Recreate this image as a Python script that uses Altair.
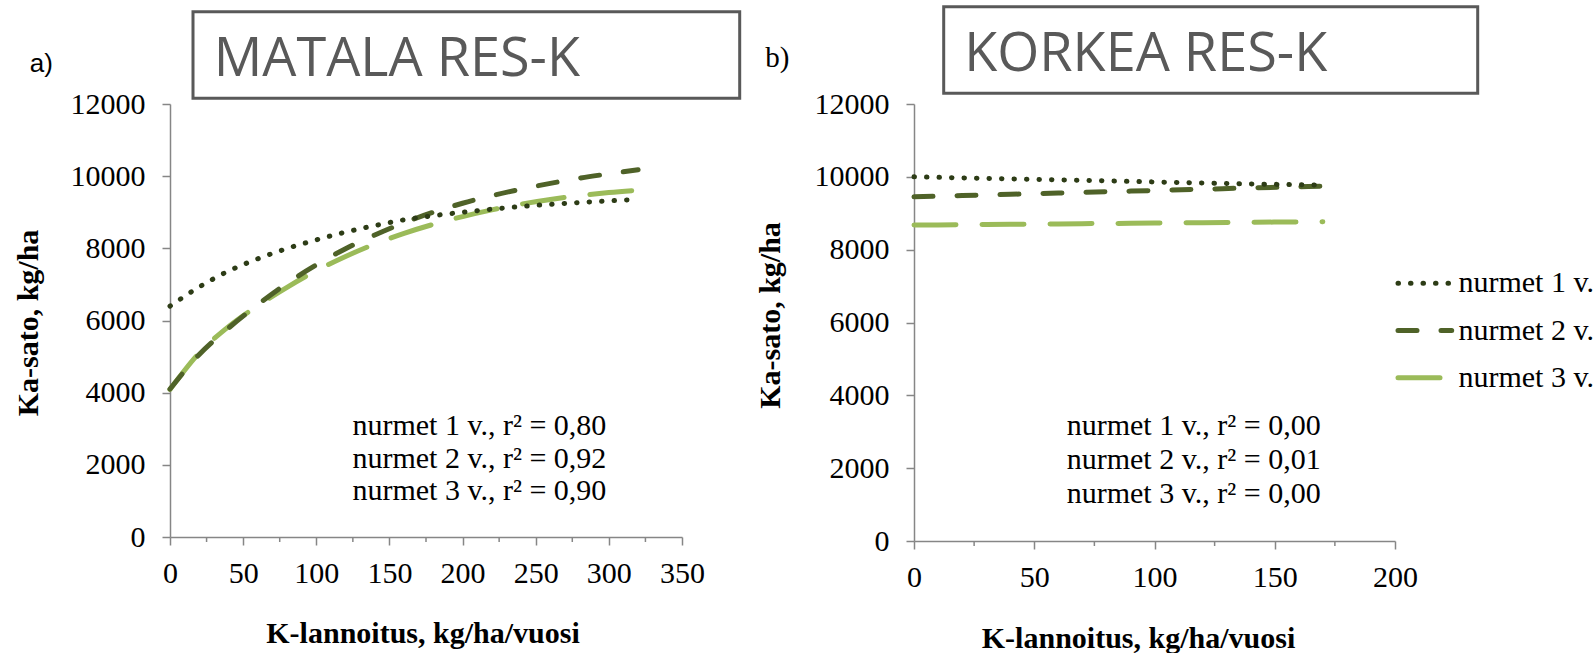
import altair as alt
import pandas as pd

# ---------------- data ----------------
series = ["nurmet 1 v.", "nurmet 2 v.", "nurmet 3 v."]
colors = ["#2d3c16", "#4f6228", "#9bbb59"]
dashes = [[0.5, 12], [19, 24], [42, 26]]
widths = [5, 5, 6]

# a) MATALA RES-K
x_left = [0, 20, 40, 60, 80, 100, 120, 140, 160, 180, 200, 220, 240, 260, 280, 300, 320]
left_y1 = [6400, 6930, 7370, 7710, 7995, 8235, 8450, 8630, 8790, 8905, 9000, 9085, 9160, 9220, 9270, 9315, 9355]
left_y2 = [4100, 5060, 5790, 6440, 7030, 7540, 7990, 8370, 8710, 9000, 9250, 9460, 9640, 9800, 9945, 10065, 10175]
left_y3 = [4090, 5100, 5830, 6410, 6920, 7380, 7775, 8120, 8415, 8665, 8880, 9065, 9225, 9355, 9460, 9545, 9610]
r2_left = ["0,80", "0,92", "0,90"]

# b) KORKEA RES-K
x_right = [0, 20, 40, 60, 80, 100, 120, 140, 160, 170]
right_y1 = [10000, 9972, 9944, 9916, 9888, 9860, 9832, 9806, 9782, 9770]
right_y2 = [9450, 9485, 9520, 9555, 9590, 9625, 9660, 9695, 9725, 9742]
right_y3 = [8675, 8686, 8697, 8708, 8719, 8730, 8741, 8752, 8762, 8767]
r2_right = ["0,00", "0,01", "0,00"]

y_ticks = [0, 2000, 4000, 6000, 8000, 10000, 12000]
x_ticks_left = [0, 50, 100, 150, 200, 250, 300, 350]
x_minor_left = [25, 75, 125, 175, 225, 275, 325]
x_ticks_right = [0, 50, 100, 150, 200]
x_minor_right = [25, 75, 125, 175]

x_title = "K-lannoitus, kg/ha/vuosi"
y_title = "Ka-sato, kg/ha"

SERIF = "Liberation Serif"
GREY = "#868686"


def long_df(xs, ys_list):
    rows = []
    # draw order: light first, dotted last (on top)
    for name, ys in reversed(list(zip(series, ys_list))):
        for x, y in zip(xs, ys):
            rows.append({"series": name, "x": x, "y": y})
    return pd.DataFrame(rows)


df_left = long_df(x_left, [left_y1, left_y2, left_y3])
df_right = long_df(x_right, [right_y1, right_y2, right_y3])

color_enc = alt.Color("series:N", scale=alt.Scale(domain=series, range=colors), legend=None)
dash_enc = alt.StrokeDash("series:N", scale=alt.Scale(domain=series, range=dashes), legend=None)
width_enc = alt.StrokeWidth("series:N", scale=alt.Scale(domain=series, range=widths), legend=None)


def panel(df, xs_ticks, xs_minor, xmax, w, h, title_txt, box, title_pos, letter, letter_pos,
          letter_font, letter_size, r2, annot_pos, xtitle_pos, ytitle_pos):
    x_enc = alt.X(
        "x:Q",
        scale=alt.Scale(domain=[0, xmax], nice=False, zero=False),
        axis=alt.Axis(values=xs_ticks, title=x_title, titleX=xtitle_pos[0], titleY=xtitle_pos[1],
                      titleAlign="center", titleBaseline="alphabetic", titleAnchor="start"),
    )
    y_enc = alt.Y(
        "y:Q",
        scale=alt.Scale(domain=[0, 12000], nice=False),
        axis=alt.Axis(values=y_ticks, format="d", title=y_title, titleAngle=-90,
                      titleX=ytitle_pos[0], titleY=ytitle_pos[1], titleAlign="center",
                      titleBaseline="alphabetic", titleAnchor="start"),
    )
    lines = alt.Chart(df).mark_line(strokeCap="round", interpolate="monotone").encode(
        x=x_enc, y=y_enc, color=color_enc, strokeDash=dash_enc, strokeWidth=width_enc,
        order=alt.value(0),
    )
    minor = alt.Chart(pd.DataFrame({"x": xs_minor})).mark_rule(color=GREY, strokeWidth=1.5).encode(
        x=x_enc, y=alt.value(h), y2=alt.value(h + 5)
    )
    rect = alt.Chart().mark_rect(fill="white", stroke="#595959", strokeWidth=3).encode(
        x=alt.value(box[0]), x2=alt.value(box[1]), y=alt.value(box[2]), y2=alt.value(box[3])
    )
    ttl = alt.Chart().mark_text(text=title_txt, font="Open Sans", fontSize=54, color="#595959",
                                align="left", baseline="alphabetic").encode(
        x=alt.value(title_pos[0]), y=alt.value(title_pos[1])
    )
    let = alt.Chart().mark_text(text=letter, font=letter_font, fontSize=letter_size, color="black",
                                align="left", baseline="alphabetic").encode(
        x=alt.value(letter_pos[0]), y=alt.value(letter_pos[1])
    )
    annot_lines = [f"{s}, r\u00b2 = {v}" for s, v in zip(series, r2)]
    annot = alt.Chart().mark_text(font=SERIF, fontSize=30, color="black", align="left",
                                  baseline="alphabetic", lineHeight=annot_pos[2]).encode(
        x=alt.value(annot_pos[0]), y=alt.value(annot_pos[1]), text=alt.value(annot_lines)
    )
    return lines, minor, rect, ttl, let, annot


LW, LH = 512, 433
RW, RH = 481, 437

l_lines, l_minor, l_rect, l_ttl, l_let, l_annot = panel(
    df_left, x_ticks_left, x_minor_left, 350, LW, LH, "MATALA RES-K",
    (23, 569.7, -92.3, -5.7), (43.7, -28), "a)", (-140.3, -32), "Liberation Sans", 26,
    r2_left, (182.4, 331, 32.5), (252.5, 105), (-133, 218.5))

anchor = alt.Chart().mark_rule(color="white", strokeWidth=1).encode(
    x=alt.value(-168.8), x2=alt.value(-166), y=alt.value(-103.5)
)

left = alt.layer(l_rect, l_ttl, l_let, l_annot, l_minor, l_lines, anchor).properties(width=LW, height=LH)

r_lines, r_minor, r_rect, r_ttl, r_let, r_annot = panel(
    df_right, x_ticks_right, x_minor_right, 200, RW, RH, "KORKEA RES-K",
    (29.7, 563.7, -97.3, -10.7), (50.2, -33), "b)", (-148.8, -37.4), SERIF, 29,
    r2_right, (152.7, 331, 34), (224, 106), (-135, 211))

leg_df = pd.DataFrame({"series": series})
leg_y = alt.Y("series:N", scale=alt.Scale(type="point", domain=series, range=[179.3, 273.7], padding=0),
              axis=None)
leg_sym = alt.Chart(leg_df).mark_rule(strokeCap="round").encode(
    x=alt.value(484), x2=alt.value(537.7), y=leg_y,
    color=color_enc, strokeDash=dash_enc, strokeWidth=width_enc,
)
leg_txt = alt.Chart(leg_df).mark_text(font=SERIF, fontSize=30, color="black", align="left",
                                      baseline="middle").encode(
    x=alt.value(544.4), y=leg_y, text="series:N"
)

right = alt.layer(r_rect, r_ttl, r_let, r_annot, r_minor, r_lines, leg_sym, leg_txt).resolve_scale(
    y="independent").properties(width=RW, height=RH)

chart = alt.hconcat(left, right, spacing=232, bounds="flush").properties(
    padding=0
).configure_view(stroke=None).configure_axis(
    grid=False, domainColor=GREY, domainWidth=1.5, tickColor=GREY, tickWidth=1.5, tickSize=8,
    labelFont=SERIF, labelFontSize=30, labelColor="black", labelFlush=False, labelOverlap=False,
    titleFont=SERIF, titleFontSize=30, titleFontWeight="bold", titleColor="black",
).configure_axisX(labelPadding=13).configure_axisY(labelPadding=17)

chart.save("out.html", embed_options={"renderer": "svg", "actions": False})
